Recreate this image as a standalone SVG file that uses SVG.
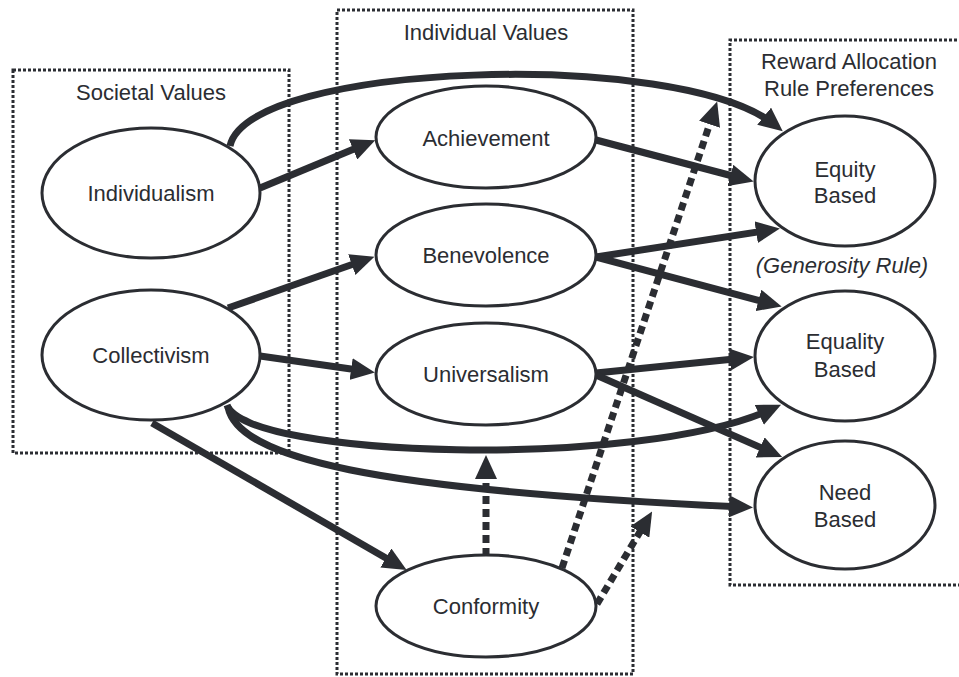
<svg xmlns="http://www.w3.org/2000/svg" width="959" height="677" viewBox="0 0 959 677">
<style>
.box{fill:none;stroke:#2b2d32;stroke-width:3;stroke-dasharray:3 2}
.node ellipse{fill:#fff;stroke:#2b2d32;stroke-width:3}
text{font-family:"Liberation Sans",Arial,sans-serif;font-size:22px;fill:#2b2d32;text-anchor:middle}
.c{fill:none;stroke:#2b2d32;stroke-width:7;marker-end:url(#ah)}
.d{stroke-dasharray:8 5}
</style>
<defs>
<marker id="ah" markerUnits="userSpaceOnUse" markerWidth="24" markerHeight="22" refX="14" refY="11" orient="auto" viewBox="0 0 24 22">
<path d="M0,0 L24,11 L0,22 Z" fill="#2b2d32"/>
</marker>
</defs>
<rect fill="#fff" width="959" height="677"/>
<g id="groups">
<rect class="box" x="13" y="70" width="276" height="383"/>
<text x="151" y="100">Societal Values</text>
<rect class="box" x="337" y="10" width="296" height="664"/>
<text x="486" y="40">Individual Values</text>
<path class="box" d="M962,40 H730 V585 H962"/>
<text x="849" y="69">Reward Allocation</text>
<text x="849" y="96">Rule Preferences</text>
<text x="842" y="273" font-style="italic">(Generosity Rule)</text>
</g>
<g id="connectors">
<path class="c" d="M260,188 L366,144"/>
<path class="c" d="M230,146 C248,62 680,48 775,125"/>
<path class="c" d="M596,140 L744,179"/>
<path class="c" d="M228,308 L365,260"/>
<path class="c" d="M260,356 L365,371"/>
<path class="c" d="M227,405 C245,458 640,470 772,409"/>
<path class="c" d="M228,407 C238,458 370,490 743,507"/>
<path class="c" d="M152,423 L398,565"/>
<path class="c" d="M596,257 L770,230"/>
<path class="c" d="M596,257 L772,304"/>
<path class="c" d="M596,373 L744,358"/>
<path class="c" d="M596,375 L773,453"/>
<path class="c d" d="M486,556 L486,465"/>
<path class="c d" d="M562,568 L714,111"/>
<path class="c d" d="M597,604 L647,520"/>
</g>
<g id="individualism" class="node"><ellipse cx="151" cy="193" rx="109" ry="65"/><text x="151" y="201">Individualism</text></g>
<g id="collectivism" class="node"><ellipse cx="151" cy="355" rx="109" ry="65"/><text x="151" y="363">Collectivism</text></g>
<g id="achievement" class="node"><ellipse cx="486" cy="137" rx="110" ry="51"/><text x="486" y="146">Achievement</text></g>
<g id="benevolence" class="node"><ellipse cx="486" cy="255" rx="110" ry="51"/><text x="486" y="263">Benevolence</text></g>
<g id="universalism" class="node"><ellipse cx="486" cy="374" rx="110" ry="51"/><text x="486" y="382">Universalism</text></g>
<g id="conformity" class="node"><ellipse cx="486" cy="606" rx="110" ry="51"/><text x="486" y="614">Conformity</text></g>
<g id="equity" class="node"><ellipse cx="845" cy="181" rx="90" ry="65"/><text x="845" y="177">Equity</text><text x="845" y="203">Based</text></g>
<g id="equality" class="node"><ellipse cx="845" cy="356" rx="90" ry="65"/><text x="845" y="349">Equality</text><text x="845" y="377">Based</text></g>
<g id="need" class="node"><ellipse cx="845" cy="505" rx="90" ry="64"/><text x="845" y="500">Need</text><text x="845" y="527">Based</text></g>
</svg>
